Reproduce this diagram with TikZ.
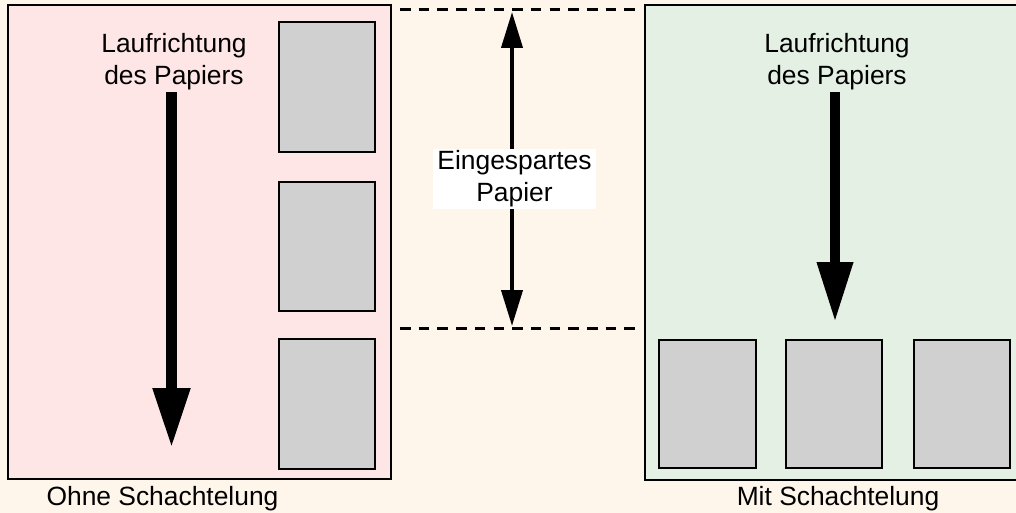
\documentclass[tikz,border=0pt]{standalone}
\usepackage{fontspec}
\setmainfont{Liberation Sans}
\usetikzlibrary{arrows.meta}
\definecolor{bgpeach}{RGB}{255,246,235}
\definecolor{panelpink}{RGB}{255,230,230}
\definecolor{panelgreen}{RGB}{228,240,228}
\definecolor{sheetgray}{RGB}{208,208,208}
\tikzset{
  lbl/.style={font=\fontsize{26.4}{32}\selectfont, inner sep=0pt, align=center, text=black},
  panel/.style={draw=black, line width=2.2pt},
  sheet/.style={draw=black, line width=2.2pt, fill=sheetgray, inner sep=0pt, minimum width=#1},
  sheet/.default=96pt,
  bigarrow/.style={line width=11pt, -{Triangle[length=60pt,width=35pt]}},
  dblarrow/.style={line width=4pt, -{Triangle[length=36pt,width=21pt]}},
  guide/.style={line width=3pt, dash pattern=on 10.5pt off 8.2pt}
}
\begin{document}
\begin{tikzpicture}[x=1pt,y=-1pt]
\useasboundingbox (0,0) rectangle (1016,513);
\fill[bgpeach] (0,0) rectangle (1016,513);
% panels
\filldraw[panel, fill=panelpink] (8,5) rectangle (391,479);
\filldraw[panel, fill=panelgreen] (645,5) rectangle (1030,480);
% left sheets
\node[sheet, minimum height=130pt] (L1) at (327,87) {};
\node[sheet, minimum height=129pt] (L2) at (327,246.5) {};
\node[sheet, minimum height=130pt] (L3) at (327,404) {};
% right sheets
\node[sheet=97pt, minimum height=128pt] (R1) at (707.5,404) {};
\node[sheet, minimum height=128pt] (R2) at (834,404) {};
\node[sheet, minimum height=128pt] (R3) at (962,404) {};
% labels
\node[lbl, anchor=north] (LT) at (174,33) {Laufrichtung\\des Papiers};
\node[lbl, anchor=north] (RT) at (837,33) {Laufrichtung\\des Papiers};
\node[lbl, anchor=base] (LB) at (162.5,505) {Ohne Schachtelung};
\node[lbl, anchor=base] (RB) at (838,505) {Mit Schachtelung};
% big arrows
\coordinate (LS) at (171.5,92);
\coordinate (LE) at (171.5,448);
\coordinate (RS) at (835,92);
\coordinate (RE) at (835,322);
\draw[bigarrow] (LS) -- (LE);
\draw[bigarrow, line width=10pt, -{Triangle[length=60pt,width=34pt]}] (RS) -- (RE);
% dashed guides
\coordinate (GT1) at (400,10);
\coordinate (GT2) at (640,10);
\coordinate (GB1) at (400,328);
\coordinate (GB2) at (640,328);
\draw[guide] (GT1) -- (GT2);
\draw[guide] (GB1) -- (GB2);
% saved paper
\coordinate (TA) at (512,12);
\coordinate (BA) at (512,326);
\node[lbl, fill=white, inner xsep=4.5pt, inner ysep=1.5pt] (MID) at (514.5,179) {Eingespartes\\Papier};
\draw[dblarrow] (MID.north -| TA) -- (TA);
\draw[dblarrow] (MID.south -| BA) -- (BA);
\end{tikzpicture}
\end{document}
